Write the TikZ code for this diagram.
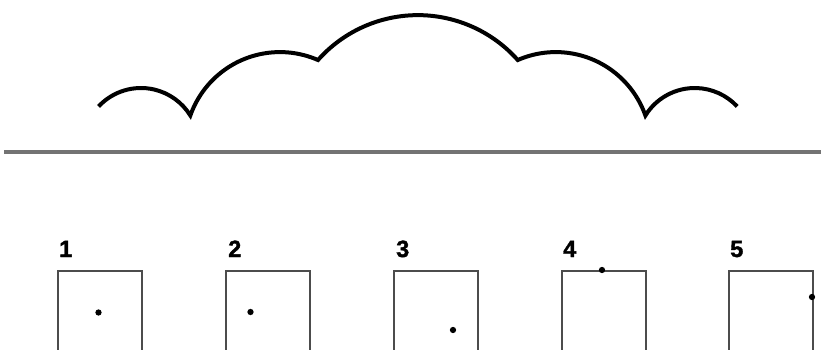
\documentclass[tikz,border=0pt]{standalone}
\usepackage{fontspec}
\setmainfont{Liberation Sans}
\newfontfamily\labfont{Liberation Sans Bold}[FakeBold=1.6]
\begin{document}
\begin{tikzpicture}[x=1pt,y=1pt,
  box/.style={draw=black!70, line width=2.3pt, minimum width=84pt, minimum height=110pt, inner sep=0pt, anchor=north west},
  dotpt/.style={circle, fill=black, inner sep=0pt, minimum size=6.3pt},
  lab/.style={anchor=base west, inner sep=0pt, font=\labfont\fontsize{23.5}{24}\selectfont},
  cloudline/.style={line width=4pt, line join=miter, black},
  ground/.style={line width=4pt, black!55}]
\useasboundingbox (0,0) rectangle (821,349);
\clip (0,0) rectangle (821,349);
% cloud
\coordinate (c1) at (141,203);
\draw[cloudline] (c1) ++(137:58pt)
  arc[start angle=137, end angle=31.7, radius=58pt]
  arc[start angle=160.6, end angle=66.4, radius=95pt]
  arc[start angle=138.4, end angle=41.6, radius=133.6pt]
  arc[start angle=113.6, end angle=19.4, radius=95pt]
  arc[start angle=148.3, end angle=43, radius=58pt];
% ground line
\coordinate (gl) at (4,197.5);
\coordinate (gr) at (821,197.5);
\draw[ground] (gl) -- (gr);
% boxes
\node[box] (b1) at (57,79) {};
\node[box] (b2) at (225,79) {};
\node[box] (b3) at (393,79) {};
\node[box] (b4) at (561,79) {};
\node[box] (b5) at (728,79) {};
% labels
\node[lab] (l1) at (59,92) {1};
\node[lab] (l2) at (228,92) {2};
\node[lab] (l3) at (396,92) {3};
\node[lab] (l4) at (563,92) {4};
\node[lab] (l5) at (730,92) {5};
% dots
\node[dotpt] (d1) at (98.5,36.5) {};
\node[dotpt] (d2) at (250.5,37) {};
\node[dotpt] (d3) at (453,19) {};
\node[dotpt] (d4) at (602,79) {};
\node[dotpt] (d5) at (812,52) {};
\end{tikzpicture}
\end{document}
